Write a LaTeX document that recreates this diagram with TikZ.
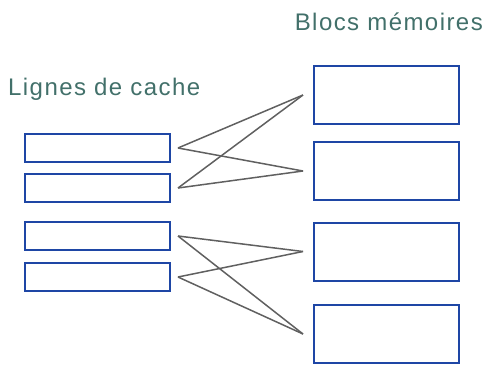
\documentclass[tikz,border=0pt]{standalone}
\usepackage{fontspec}
\setmainfont{Liberation Sans}
\definecolor{titlegreen}{RGB}{66,112,106}
\definecolor{boxblue}{RGB}{30,70,165}
\begin{document}
\begin{tikzpicture}[x=1pt,y=-1pt,
    cacheline/.style={draw=boxblue,line width=2pt,minimum width=145pt,minimum height=28pt,inner sep=0pt},
    memblock/.style={cacheline,minimum height=58pt},
    link/.style={draw=gray!75!black,line width=1.5pt},
    caption/.style={text=titlegreen,font=\fontsize{24}{28}\selectfont\addfontfeature{LetterSpace=6},inner sep=0pt}]
    \useasboundingbox (0,0) rectangle (483,365);
    % titres
    \node[caption,anchor=base west] (labcache) at (8,95) {Lignes de cache};
    \node[caption,anchor=base east] (labmem) at (483,30) {Blocs mémoires};
    % lignes de cache et blocs
    \foreach \name / \y in {c1/148,c2/188,c3/236,c4/277}
        \node[cacheline] (\name) at (97.5,\y) {};
    \foreach \name / \y in {b1/95,b2/171,b3/251.5,b4/334}
        \node[memblock] (\name) at (386.5,\y) {};
    % correspondances
    \foreach \from / \to in {c1/b1,c1/b2,c2/b1,c2/b2,c3/b3,c3/b4,c4/b3,c4/b4}
        \draw[link] ([xshift=7pt]\from.east) -- ([xshift=-10pt]\to.west);
\end{tikzpicture}
\end{document}
